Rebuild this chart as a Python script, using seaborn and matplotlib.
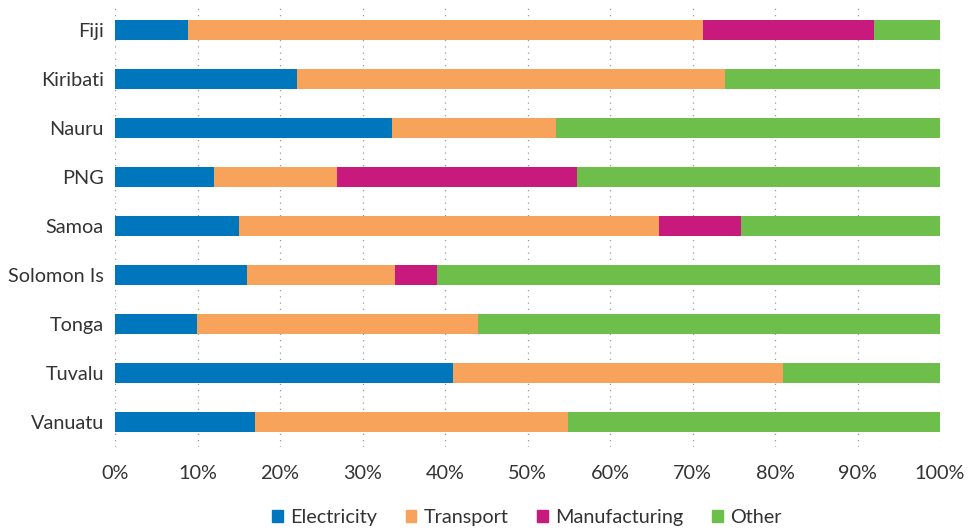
import matplotlib
matplotlib.use("Agg")
import matplotlib.pyplot as plt
import matplotlib.patches as mpatches
from matplotlib.ticker import PercentFormatter
import seaborn as sns
import pandas as pd
import numpy as np

countries = ["Fiji", "Kiribati", "Nauru", "PNG", "Samoa", "Solomon Is", "Tonga", "Tuvalu", "Vanuatu"]
electricity = [8.8, 22.0, 33.6, 12.0, 15.0, 16.0, 9.9, 41.0, 17.0]
transport = [62.5, 51.9, 19.8, 14.9, 50.9, 17.9, 34.1, 40.0, 37.9]
manufacturing = [20.7, 0.0, 0.0, 29.1, 10.0, 5.1, 0.0, 0.0, 0.0]
other = [8.0, 26.1, 46.6, 44.0, 24.1, 61.0, 56.0, 19.0, 45.1]

series_names = ["Electricity", "Transport", "Manufacturing", "Other"]
colors = ["#0076BD", "#F7A35B", "#C8197D", "#6DBE4B"]

sns.set_style("white")
plt.rcParams["font.family"] = ["Lato", "DejaVu Sans"]

df = pd.DataFrame({"country": countries, "Electricity": electricity, "Transport": transport,
                   "Manufacturing": manufacturing, "Other": other})
cum = df[series_names].cumsum(axis=1)

fig = plt.figure(figsize=(9.68, 5.31), dpi=100)
ax = fig.add_axes([0.1188, 0.159, 0.8523, 0.831])

for name, col in reversed(list(zip(series_names, colors))):
    sns.barplot(x=cum[name], y=df["country"], orient="h", color=col, width=0.41,
                saturation=1, ax=ax, edgecolor="none", linewidth=0)

ax.set_xlim(0, 100)
ax.set_xticks(np.arange(0, 101, 10))
ax.xaxis.set_major_formatter(PercentFormatter(decimals=0))
ax.set_xlabel("")
ax.set_ylabel("")
ax.grid(axis="x", color="#9a9a9a", linestyle=(0, (1, 4)), linewidth=0.9)
ax.set_axisbelow(True)
for s in ax.spines.values():
    s.set_visible(False)
ax.tick_params(axis="both", length=0, labelsize=14.3, colors="#333333", pad=8)
ax.tick_params(axis="x", pad=13)

handles = [mpatches.Patch(color=c, label=n) for n, c in zip(series_names, colors)]
fig.legend(handles=handles, loc="lower center", bbox_to_anchor=(0.544, -0.025), ncol=4,
           frameon=False, fontsize=14.3, handlelength=0.55, handleheight=0.55,
           handletextpad=0.35, columnspacing=1.45, labelcolor="#333333")

fig.savefig("out.png", dpi=100)
